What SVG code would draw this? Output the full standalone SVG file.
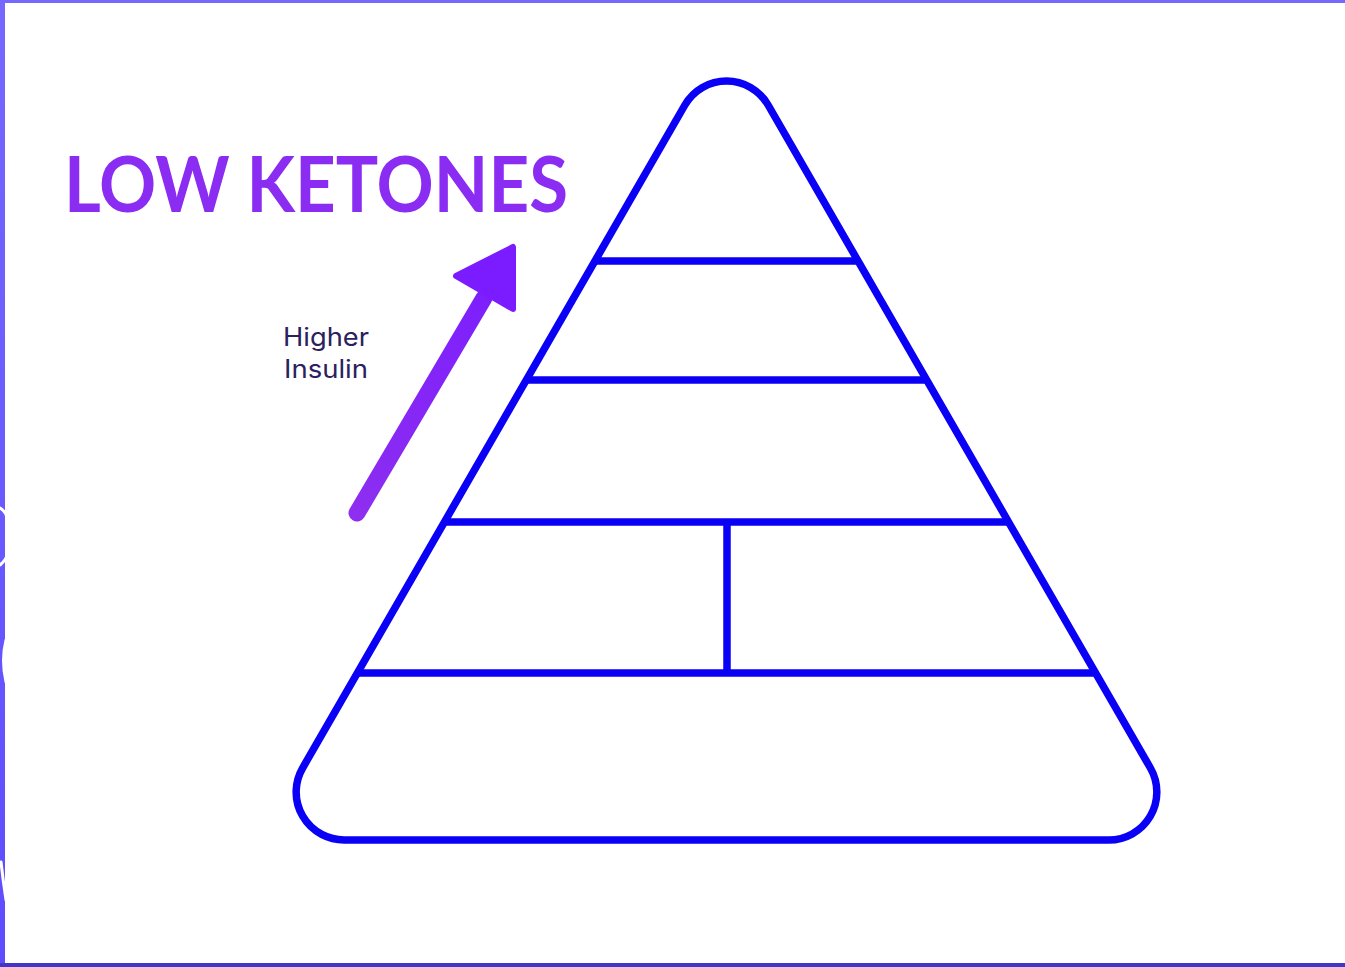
<svg xmlns="http://www.w3.org/2000/svg" width="1345" height="967" viewBox="0 0 1345 967">
  <defs>
    <style>
      .pyr { fill: none; stroke: #0a00f5; stroke-width: 7.5; stroke-linejoin: round; stroke-linecap: butt; }
      .title { font-family: "Lato", "Open Sans", "Liberation Sans", sans-serif; font-weight: 700; fill: #8a2cf2; }
      .label { font-family: "Inter", "Liberation Sans", sans-serif; font-weight: 400; fill: #2b2160; }
      .ghost { fill: none; stroke: #ffffff; stroke-width: 3; stroke-linecap: round; }
    </style>
    <linearGradient id="arrowGrad" x1="355" y1="515" x2="513" y2="245" gradientUnits="userSpaceOnUse">
      <stop offset="0" stop-color="#8d2ef0"/>
      <stop offset="1" stop-color="#7a1cff"/>
    </linearGradient>
    <linearGradient id="leftBorder" x1="0" y1="0" x2="0" y2="967" gradientUnits="userSpaceOnUse">
      <stop offset="0" stop-color="#7668ff"/>
      <stop offset="1" stop-color="#5e4cff"/>
    </linearGradient>
  </defs>

  <rect x="0" y="0" width="1345" height="967" fill="#ffffff"/>

  <g id="frame">
    <rect x="0" y="0" width="1345" height="3" fill="#7668ff"/>
    <rect x="0" y="0" width="5" height="967" fill="url(#leftBorder)"/>
    <rect x="0" y="963" width="1345" height="4" fill="#4434c8"/>
    <path class="ghost" d="M0 508 Q6 512 7 518 M0 565 Q6 560 7 555"/>
    <path class="ghost" d="M6 640 Q1 660 6 682"/>
    <path class="ghost" d="M1 862 Q3 880 6 900"/>
  </g>

  <g id="title">
    <text class="title" x="64" y="212" font-size="77" textLength="504" lengthAdjust="spacingAndGlyphs">LOW KETONES</text>
  </g>

  <g id="insulin-label">
    <text class="label" x="283" y="346" font-size="25" textLength="86" lengthAdjust="spacingAndGlyphs">Higher</text>
    <text class="label" x="284" y="378" font-size="25" textLength="84" lengthAdjust="spacingAndGlyphs">Insulin</text>
  </g>

  <g id="connectors">
    <line x1="357" y1="513" x2="484" y2="298" stroke="url(#arrowGrad)" stroke-width="17" stroke-linecap="round"/>
    <path d="M513 247 L513 309 L456 276 Z" fill="#7a1cff" stroke="#7a1cff" stroke-width="6" stroke-linejoin="round"/>
  </g>

  <g id="pyramid">
    <path class="pyr" d="M684.9 105 A48 48 0 0 1 768.1 105 L1150.4 768 A48 48 0 0 1 1107.9 840 L344.1 840 A48 48 0 0 1 302.6 768 Z"/>
  </g>
  <g id="tier1"><line class="pyr" x1="594.9" y1="261" x2="858.1" y2="261"/></g>
  <g id="tier2"><line class="pyr" x1="526.1" y1="380" x2="926.9" y2="380"/></g>
  <g id="tier3"><line class="pyr" x1="444.2" y1="522" x2="1008.8" y2="522"/></g>
  <g id="tier4"><line class="pyr" x1="357" y1="673" x2="1096" y2="673"/><line class="pyr" x1="727" y1="522" x2="727" y2="673"/></g>
</svg>
